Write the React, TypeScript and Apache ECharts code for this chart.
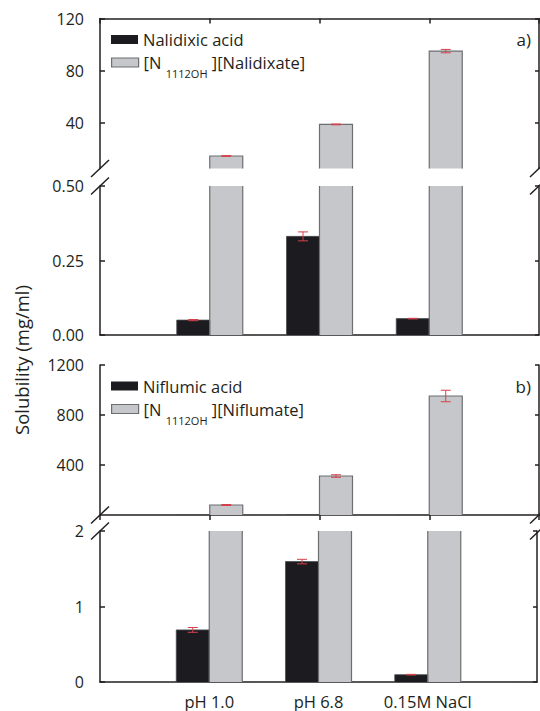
import React, { useEffect, useRef } from 'react';
import * as echarts from 'echarts';

// ---------- data ----------
const categories = ['pH 1.0', 'pH 6.8', '0.15M NaCl'];

// panel a)
const nalidixicAcid = [0.05, 0.331, 0.055];
const nalidixicAcidErr = [0.002, 0.015, 0.001];
const nalidixate = [14.6, 38.8, 95.0];
const nalidixateErr = [0.3, 0.3, 1.3];

// panel b)
const niflumicAcid = [0.69, 1.595, 0.097];
const niflumicAcidErr = [0.032, 0.03, 0.004];
const niflumate = [80, 312, 952];
const niflumateErr = [4, 10, 46];

// axis ranges and ticks
const aUpperRange = [5, 120];
const aUpperTicks = [40, 80, 120];
const aLowerRange = [0, 0.5];
const aLowerTicks = [0, 0.25, 0.5];
const bUpperRange = [0, 1200];
const bUpperTicks = [400, 800, 1200];
const bLowerRange = [0, 2];
const bLowerTicks = [0, 1, 2];

const acidNames = ['Nalidixic acid', 'Niflumic acid'];
const saltNames = ['[N1112OH][Nalidixate]', '[N1112OH][Niflumate]'];
const saltAnions = ['Nalidixate', 'Niflumate'];
const panelLabels = ['a)', 'b)'];

// ---------- style ----------
const FONT = 'Open Sans';
const INK = '#231f20';
const BLACK = '#1c1c20';
const GRAY = '#c6c7ca';
const EDGE = '#6d6e71';
const RED = '#d6404a';
const AXW = 1.5;
const BAR_W = 33;
const L = 100;
const R = 539;

const grids = [
  { top: 18.5, bottom: 168.5 },
  { top: 186, bottom: 335 },
  { top: 365, bottom: 515 },
  { top: 531, bottom: 682 },
];

function buildOption() {
  const panels = [
    { acid: nalidixicAcid, acidErr: nalidixicAcidErr, salt: nalidixate, saltErr: nalidixateErr,
      upper: { range: aUpperRange, ticks: aUpperTicks, fmt: (v: number) => String(v) },
      lower: { range: aLowerRange, ticks: aLowerTicks, fmt: (v: number) => v.toFixed(2) } },
    { acid: niflumicAcid, acidErr: niflumicAcidErr, salt: niflumate, saltErr: niflumateErr,
      upper: { range: bUpperRange, ticks: bUpperTicks, fmt: (v: number) => String(v) },
      lower: { range: bLowerRange, ticks: bLowerTicks, fmt: (v: number) => String(v) } },
  ];

  const grid: any[] = [];
  const xAxis: any[] = [];
  const yAxis: any[] = [];
  const series: any[] = [];
  const lineStyle = { color: INK, width: AXW };
  const axisCats = ['', ...categories, ''];
  const pad = (arr: number[]) => ['-', ...arr, '-'];

  const errSeries = (gi: number, vals: number[], errs: number[], offset: number) => ({
    type: 'custom',
    xAxisIndex: gi,
    yAxisIndex: gi * 2,
    clip: true,
    silent: true,
    z: 5,
    data: vals.map((v, k) => [k + 1, v - errs[k], v + errs[k]]),
    renderItem: (params: any, api: any) => {
      const x = api.value(0);
      const lo = api.coord([x, api.value(1)]);
      const hi = api.coord([x, api.value(2)]);
      const cx = lo[0] + offset;
      const st = { stroke: RED, lineWidth: 1 };
      return {
        type: 'group',
        children: [
          { type: 'line', shape: { x1: cx, y1: lo[1], x2: cx, y2: hi[1] }, style: st },
          { type: 'line', shape: { x1: cx - 5, y1: lo[1], x2: cx + 5, y2: lo[1] }, style: st },
          { type: 'line', shape: { x1: cx - 5, y1: hi[1], x2: cx + 5, y2: hi[1] }, style: st },
        ],
      };
    },
  });

  // outline (left, top, right edges) of bars, clipped to grid so cut ends stay open
  const outlineSeries = (gi: number, vals: number[], offset: number, color: string, w: number) => ({
    type: 'custom',
    xAxisIndex: gi,
    yAxisIndex: gi * 2,
    clip: true,
    silent: true,
    z: 4,
    data: vals.map((v, k) => [k + 1, v]),
    renderItem: (params: any, api: any) => {
      const x = api.value(0);
      const top = api.coord([x, api.value(1)]);
      const base = api.coord([x, 0]);
      const x0 = top[0] + offset - BAR_W / 2;
      const x1 = x0 + BAR_W;
      return {
        type: 'polyline',
        shape: { points: [[x0, base[1]], [x0, top[1]], [x1, top[1]], [x1, base[1]]] },
        style: { stroke: color, lineWidth: w, fill: 'none' },
      };
    },
  });

  grids.forEach((g, gi) => {
    const p = Math.floor(gi / 2);
    const upper = gi % 2 === 0;
    const panel = panels[p];
    const ax = upper ? panel.upper : panel.lower;
    grid.push({ left: L, top: g.top, width: R - L, height: g.bottom - g.top });
    xAxis.push({
      gridIndex: gi,
      type: 'category',
      data: axisCats,
      boundaryGap: false,
      position: upper ? 'top' : 'bottom',
      axisLine: { show: true, lineStyle },
      axisTick: { show: upper, inside: true, length: 5, interval: 0, lineStyle },
      axisLabel: {
        show: gi === 3, interval: 0, margin: 11, fontSize: 16.5, lineHeight: 16,
        fontFamily: FONT, color: INK,
      },
      splitLine: { show: false },
    });
    ['left', 'right'].forEach((pos) => {
      yAxis.push({
        gridIndex: gi,
        type: 'value',
        position: pos,
        min: ax.range[0],
        max: ax.range[1],
        axisLine: { show: true, lineStyle },
        axisTick: { show: true, inside: true, length: pos === 'left' ? 5 : 4, customValues: ax.ticks, lineStyle },
        axisLabel: {
          show: pos === 'left', customValues: ax.ticks, margin: 16, formatter: ax.fmt,
          fontSize: 16, fontFamily: FONT, color: INK,
        },
        splitLine: { show: false },
      });
    });
    series.push({
      type: 'bar', name: acidNames[p], xAxisIndex: gi, yAxisIndex: gi * 2,
      data: pad(panel.acid), barWidth: BAR_W, barGap: '0%', clip: true,
      itemStyle: { color: BLACK, borderWidth: 0 },
    });
    series.push({
      type: 'bar', name: saltNames[p], xAxisIndex: gi, yAxisIndex: gi * 2,
      data: pad(panel.salt), barWidth: BAR_W, barGap: '0%', clip: true,
      itemStyle: { color: GRAY, borderWidth: 0 },
    });
    series.push(outlineSeries(gi, panel.acid, -BAR_W / 2, '#4a4b4f', 0.8));
    series.push(outlineSeries(gi, panel.salt, BAR_W / 2, EDGE, 1.2));
    if (upper) series.push(errSeries(gi, panel.salt, panel.saltErr, BAR_W / 2));
    else series.push(errSeries(gi, panel.acid, panel.acidErr, -BAR_W / 2));
  });

  const legendCenters = [[39.5, 62.5], [386, 409]];
  const legend: any[] = [];
  [0, 1].forEach((p) => {
    legend.push({
      data: [acidNames[p]], left: 111, top: legendCenters[p][0] - 9, padding: 0,
      icon: 'rect', itemWidth: 27, itemHeight: 9, selectedMode: false,
      itemStyle: { borderWidth: 0 },
      textStyle: { fontSize: 16.5, fontFamily: FONT, color: INK, lineHeight: 18 },
    });
    legend.push({
      data: [saltNames[p]], left: 111, top: legendCenters[p][1] - 16.5, padding: 0,
      icon: 'rect', itemWidth: 27, itemHeight: 9, selectedMode: false,
      itemStyle: { borderColor: EDGE, borderWidth: 1.2 },
      formatter: () => `{m|[N }{s|1112OH}{m| ][${saltAnions[p]}]}`,
      textStyle: {
        fontFamily: FONT, color: INK,
        rich: {
          m: { fontSize: 16.5, lineHeight: 18, fontFamily: FONT, color: INK },
          s: { fontSize: 11, lineHeight: 11, padding: [22, 0, 0, 0], fontFamily: FONT, color: INK },
        },
      },
    });
  });

  const graphic: any[] = [];
  const slash = (x: number, y: number) => ({
    type: 'line', silent: true, z: 100,
    shape: { x1: x - 9, y1: y + 8.5, x2: x + 9, y2: y - 8.5 },
    style: { stroke: INK, lineWidth: AXW },
  });
  [0, 2].forEach((gi) => {
    [L, R].forEach((x) => {
      graphic.push(slash(x, grids[gi].bottom));
      graphic.push(slash(x, grids[gi + 1].top));
    });
  });
  panelLabels.forEach((t, p) => {
    graphic.push({
      type: 'text', x: 531, y: legendCenters[p][0], silent: true,
      style: { text: t, textAlign: 'right', textVerticalAlign: 'middle', fontSize: 17, fontFamily: FONT, fill: INK },
    });
  });
  graphic.push({
    type: 'text', x: 21, y: 360, rotation: Math.PI / 2, silent: true,
    style: {
      text: 'Solubility (mg/ml)', textAlign: 'center', textVerticalAlign: 'middle',
      fontSize: 18.5, fontFamily: FONT, fill: INK,
    },
  });

  return {
    animation: false,
    backgroundColor: '#ffffff',
    grid, xAxis, yAxis, series, legend, graphic,
  };
}

export default function App() {
  const ref = useRef<HTMLDivElement>(null);
  useEffect(() => {
    document.body.style.margin = '0';
    const chart = echarts.init(ref.current!, null, { renderer: 'svg' });
    chart.setOption(buildOption() as any);
    return () => chart.dispose();
  }, []);
  return <div ref={ref} style={{ width: 540, height: 711 }} />;
}
